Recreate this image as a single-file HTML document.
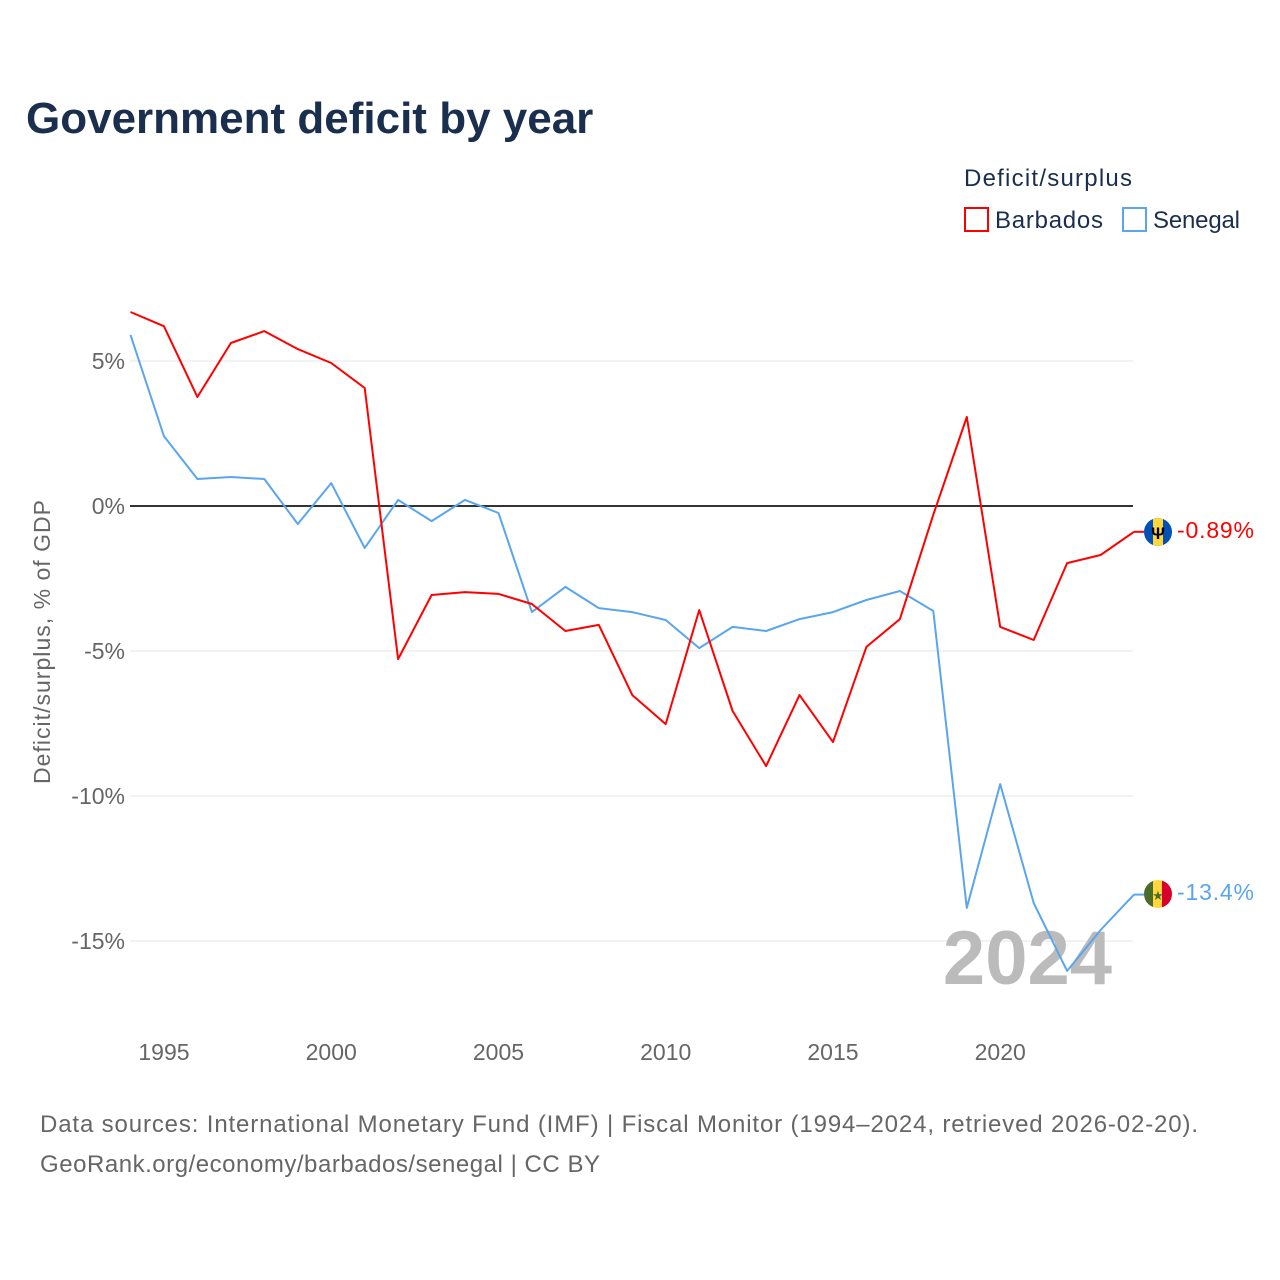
<!DOCTYPE html>
<html><head><meta charset="utf-8">
<style>
body{margin:0;background:#fff;font-family:"Liberation Sans",sans-serif;}
svg{display:block}
</style></head>
<body>
<svg id="chart" width="1280" height="1280" viewBox="0 0 1280 1280" xmlns="http://www.w3.org/2000/svg">
<rect width="1280" height="1280" fill="#fff"/>
<text x="26" y="133" font-size="44" font-weight="bold" fill="#1a2e4e">Government deficit by year</text>
<text x="964" y="186" font-size="24" fill="#1a2e4e" textLength="168">Deficit/surplus</text>
<g><rect x="965" y="208" width="23" height="23" fill="none" stroke="#ff0000" stroke-width="2"/><text x="995" y="228" font-size="24" fill="#1a2e4e" textLength="108">Barbados</text></g>
<g><rect x="1123" y="208" width="23" height="23" fill="none" stroke="#5aa6ee" stroke-width="2"/><text x="1153" y="228" font-size="24" fill="#1a2e4e" textLength="87">Senegal</text></g>
<text transform="translate(50,642) rotate(-90)" text-anchor="middle" font-size="23" fill="#666" textLength="284">Deficit/surplus, % of GDP</text>
<g id="grid"></g>
<text x="1112" y="984" text-anchor="end" font-size="76" font-weight="bold" fill="#bbb">2024</text>
<g id="series"></g>
<g>
<clipPath id="c1"><circle cx="1158" cy="532" r="14"/></clipPath>
<g clip-path="url(#c1)"><rect x="1144" y="518" width="28" height="28" fill="#0050b5"/><rect x="1153" y="518" width="10" height="28" fill="#ffd63c"/></g>
<text x="1158" y="539" text-anchor="middle" font-size="17" font-weight="bold" fill="#000">Ψ</text>
<text x="1177" y="538" font-size="23" fill="#ff0000" textLength="77">-0.89%</text></g>
<g>
<clipPath id="c2"><circle cx="1158" cy="894" r="14"/></clipPath>
<g clip-path="url(#c2)"><rect x="1144" y="880" width="10" height="28" fill="#4a6b2a"/><rect x="1153" y="880" width="10" height="28" fill="#ffd63c"/><rect x="1162" y="880" width="10" height="28" fill="#d8002a"/></g>
<text x="1158" y="900" text-anchor="middle" font-size="13" fill="#4a6b2a">★</text>
<text x="1177" y="900" font-size="23" fill="#5aa6ee" textLength="77">-13.4%</text></g>
<text x="40" y="1132" font-size="24" fill="#666" textLength="1158">Data sources: International Monetary Fund (IMF) | Fiscal Monitor (1994–2024, retrieved 2026-02-20).</text>
<text x="40" y="1172" font-size="24" fill="#666" textLength="560">GeoRank.org/economy/barbados/senegal | CC BY</text>
</svg>
<script>
const years=[1994,1995,1996,1997,1998,1999,2000,2001,2002,2003,2004,2005,2006,2007,2008,2009,2010,2011,2012,2013,2014,2015,2016,2017,2018,2019,2020,2021,2022,2023,2024];
const barbados=[6.69,6.2,3.76,5.62,6.03,5.41,4.93,4.07,-5.28,-3.07,-2.97,-3.03,-3.38,-4.31,-4.10,-6.52,-7.52,-3.59,-7.07,-8.97,-6.52,-8.14,-4.86,-3.90,-0.3,3.07,-4.17,-4.62,-1.97,-1.69,-0.89];
const senegal=[5.9,2.41,0.93,1.0,0.93,-0.62,0.79,-1.45,0.21,-0.52,0.21,-0.24,-3.66,-2.79,-3.52,-3.66,-3.93,-4.9,-4.17,-4.31,-3.9,-3.66,-3.24,-2.93,-3.62,-13.86,-9.59,-13.69,-16.03,-14.62,-13.4];
const yTicks=[5,0,-5,-10,-15];
const xTicks=[1995,2000,2005,2010,2015,2020];
const NS="http://www.w3.org/2000/svg";
const x=v=>130.5+(v-1994)*33.45;
const y=v=>506-v*29;
const grid=document.getElementById('grid');
function mk(tag,attrs,parent){const e=document.createElementNS(NS,tag);for(const k in attrs)e.setAttribute(k,attrs[k]);parent.appendChild(e);return e;}
yTicks.forEach(t=>{
  const l=mk('line',{x1:130,x2:1133,y1:y(t),y2:y(t),stroke:t===0?'#333':'#e6e6e6','stroke-width':t===0?2:1},grid);
  
  
  const tx=mk('text',{x:125,y:y(t)+8,'text-anchor':'end','font-size':23,fill:'#666'},grid);
  tx.textContent=t+'%';
  
  
});
xTicks.forEach(t=>{
  const tx=mk('text',{x:x(t),y:1060,'text-anchor':'middle','font-size':23,fill:'#666'},grid);
  tx.textContent=t;
  
  
});
const s=document.getElementById('series');
[[senegal,'#5aa6ee','senegal-line'],[barbados,'#ff0000','barbados-line']].forEach(([d,c,n])=>{
  const p=mk('path',{d:d.map((v,i)=>(i?'L':'M')+x(years[i]).toFixed(1)+','+y(v).toFixed(1)).join(''),fill:'none',stroke:c,'stroke-width':2,'stroke-linejoin':'round'},s);
  
  
  const e=mk('line',{x1:x(2024),x2:1144,y1:y(d[d.length-1]),y2:y(d[d.length-1]),stroke:c,'stroke-width':2},s);
  
  
});
</script>
</body></html>
